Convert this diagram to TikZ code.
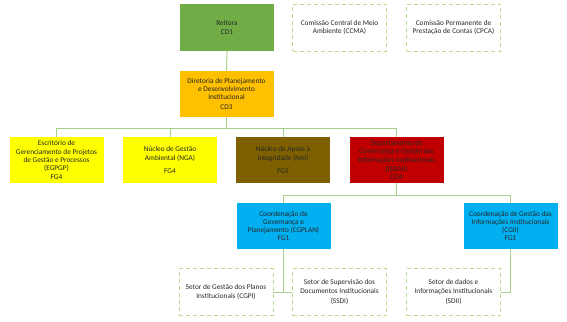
\documentclass[tikz,border=0pt]{standalone}
\usepackage{fontspec}
\setmainfont{Carlito}
\definecolor{cgreen}{HTML}{70AD47}
\definecolor{corange}{HTML}{FFC000}
\definecolor{cyellow}{HTML}{FFFF00}
\definecolor{cbrown}{HTML}{7F6000}
\definecolor{cred}{HTML}{C00000}
\definecolor{cblue}{HTML}{00B0F0}
\definecolor{cline}{HTML}{A9D18E}
\definecolor{cdash}{HTML}{B4DE8E}
\definecolor{ctext}{HTML}{262626}
\tikzset{
  box/.style={rectangle, minimum width=94pt, minimum height=47pt, inner sep=1pt,
    align=center, text=ctext, font=\fontsize{7.3}{8.3}\selectfont},
  filled/.style={box, fill=#1, draw=none},
  dashbox/.style={box, draw=cdash, line width=0.9pt, dash pattern=on 4pt off 3pt},
  conn/.style={draw=cline, line width=1pt},
}
\begin{document}
\begin{tikzpicture}[x=1pt,y=-1pt]
\useasboundingbox (0,0) rectangle (567,321);
% level 1
\node[filled=cgreen] (reit) at (227,27.5) {Reitora\\CD1};
\node[dashbox] (ccma) at (339.5,27.5) {Comissão Central de Meio\\Ambiente (CCMA)};
\node[dashbox] (cpca) at (453.5,27.5) {Comissão Permanente de\\Prestação de Contas (CPCA)};
% level 2
\node[filled=corange, minimum height=46pt] (dpdi) at (226.5,94) {Diretoria de Planejamento\\e Desenvolvimento\\Institucional\\[2pt]CD3};
% level 3
\node[filled=cyellow, minimum height=46pt] (egpgp) at (56.5,160) {Escritório de\\Gerenciamento de Projetos\\de Gestão e Processos\\(EGPGP)\\FG4};
\node[filled=cyellow, minimum height=46pt] (nga) at (170,160) {Núcleo de Gestão\\Ambiental (NGA)\\[5pt]FG4};
\node[filled=cbrown, minimum height=46pt] (nai) at (283,160) {Núcleo de Apoio à\\Integridade (NAI)\\[5pt]FG5};
\node[filled=cred, minimum height=46pt] (dggii) at (396.5,160) {Departamento de\\Governança e Gestão das\\Informações Institucionais\\[1pt](DGGII)\\CD4};
% level 4
\node[filled=cblue, minimum height=46pt] (cgplan) at (283.5,226) {Coordenação de\\Governança e\\Planejamento (CGPLAN)\\FG1};
\node[filled=cblue, minimum height=46pt] (cgii) at (510.5,226) {Coordenação de Gestão das\\Informações Institucionais\\(CGII)\\FG1};
% level 5
\node[dashbox] (cgpi) at (226,292) {Setor de Gestão dos Planos\\Institucionais (CGPI)};
\node[dashbox] (ssdi) at (339.5,292) {Setor de Supervisão dos\\Documentos Institucionais\\[2pt](SSDI)};
\node[dashbox] (sdii) at (453.5,292) {Setor de dados e\\Informações Institucionais\\[2pt](SDII)};
% bus coordinates
\coordinate (b1) at (0,128);
\coordinate (b2) at (0,195);
% connectors
\draw[conn] (reit.south) -- (dpdi.north);
\draw[conn] (dpdi.south) -- (dpdi.south |- b1);
\draw[conn] (egpgp.north) |- (b1 -| dggii.north) -- (dggii.north);
\draw[conn] (nga.north) -- (nga.north |- b1);
\draw[conn] (nai.north) -- (nai.north |- b1);
\draw[conn] (dggii.south) -- (dggii.south |- b2);
\draw[conn] (cgplan.north) |- (b2 -| cgii.north) -- (cgii.north);
\draw[conn] (cgplan.south) |- (cgpi.east);
\draw[conn] (cgplan.south |- cgpi.east) -- (ssdi.west);
\draw[conn] (cgii.south) |- (sdii.east);
\end{tikzpicture}
\end{document}
